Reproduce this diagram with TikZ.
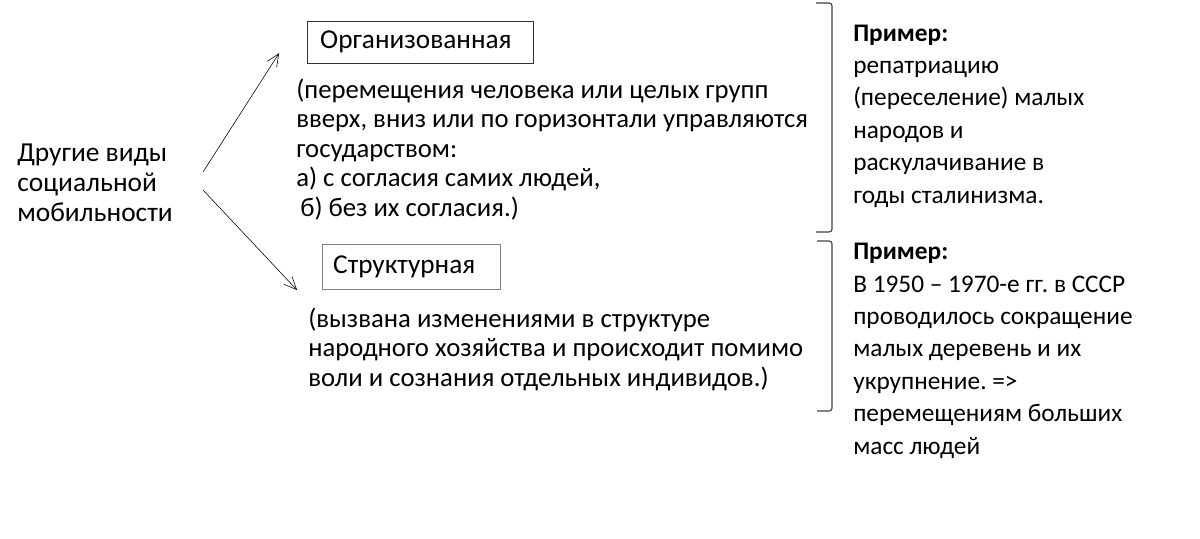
\documentclass[tikz,border=0pt]{standalone}
\usepackage{fontspec}
\setmainfont{Carlito}
\usetikzlibrary{arrows.meta,positioning}
\frenchspacing
\newlength\pix \setlength\pix{0.7087pt}  %one pixel of the reference
\tikzset{
  txt/.style={anchor=base west,align=left,inner sep=0pt,font=\fontsize{19}{20.9}\selectfont},
  prim/.style={txt,font=\fontsize{18}{23}\selectfont},
  kind/.style={draw,anchor=north west,align=left,inner ysep=0pt,font=\fontsize{19.4}{21}\selectfont},
  arr/.style={->,>={Straight Barb[length=9pt,width=8pt]},thin},
  brace/.style={draw=black!75,rounded corners=2pt,line width=0.8pt}
}
\begin{document}
\begin{tikzpicture}[x=0.025cm,y=-0.025cm]
    \useasboundingbox (0,0) rectangle (1200,538);
    % base of a text node = base of its last line
    \node[txt,font=\fontsize{19.5}{21.3}\selectfont] (vid) at (17,221) {Другие виды\\социальной\\мобильности};
    % the two kinds
    \node[kind,draw=black!80,text width=201\pix,inner xsep=13\pix,minimum height=42\pix] (org) at (307,21) {Организованная};
    \node[txt] (orgtxt) at (296,216) {(перемещения человека или целых групп\\вверх, вниз или по горизонтали управляются\\государством:\\а) с согласия самих людей,\\\hspace*{4\pix}б) без их согласия.)};
    \node[kind,draw=black!50,text width=157\pix,inner xsep=11\pix,minimum height=45\pix] (str) at (322,244) {Структурная};
    \node[txt] (strtxt) at (308,386) {(вызвана изменениями в структуре\\народного хозяйства и происходит помимо\\воли и сознания отдельных индивидов.)};
    % arrows
    \coordinate (from1) at (203,172);
    \coordinate (from2) at (203,190);
    \coordinate (to1) at ([xshift=-28\pix,yshift=-11\pix]org.west);
    \coordinate (to2) at ([xshift=-25\pix,yshift=-23.5\pix]str.west);
    \draw[arr] (from1) -- (to1);
    \draw[arr] (from2) -- (to2);
    % examples
    \draw[brace] (816,3) -| (832,232) -- (816,232);
    \draw[brace] (817,241) -| (832,411) -- (817,411);
    \node[prim] (ex1) at (853,203) {\textbf{Пример:}\\репатриацию\\(переселение) малых\\народов и\\раскулачивание в\\годы сталинизма.};
    \node[prim] (ex2) at (853,454) {\textbf{Пример:}\\В 1950 – 1970-е гг. в СССР\\проводилось сокращение\\малых деревень и их\\укрупнение. =>\\перемещениям больших\\масс людей};
\end{tikzpicture}
\end{document}
